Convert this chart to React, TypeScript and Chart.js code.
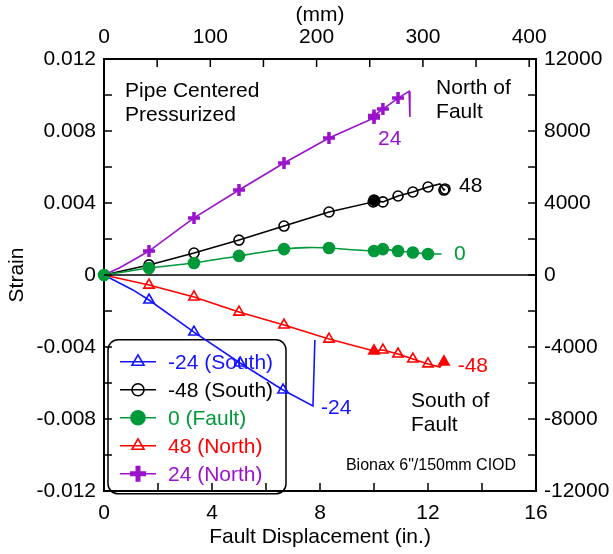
import React, { useEffect, useRef } from 'react';
import { Chart, registerables } from 'chart.js';

Chart.register(...registerables);

const FONT = '"Liberation Sans", Arial, Helvetica, sans-serif';

// ---- Data (fault displacement in inches, strain) ----
const blueX = [0, 1.07, 1.667, 3.333, 5.04, 6.63, 7.74, 7.81];
const blueY = [0, -0.00083, -0.00139, -0.00317, -0.00489, -0.00639, -0.00728, -0.00361];

const blackX = [0, 1.667, 3.333, 5.0, 6.667, 8.333, 9.97, 10.0, 10.03, 10.33, 10.89, 11.44, 12.0, 12.44, 12.59, 12.63];
const blackY = [0, 0.00056, 0.00122, 0.00194, 0.00272, 0.0035, 0.00406, 0.00417, 0.00411, 0.00406, 0.00439, 0.00461, 0.00489, 0.00506, 0.00472, 0.00478];

const greenX = [0, 1.667, 3.333, 5.0, 6.667, 7.5, 8.333, 10.0, 10.33, 10.89, 11.44, 12.0, 12.5];
const greenY = [0, 0.00039, 0.00067, 0.00106, 0.00144, 0.00152, 0.0015, 0.00133, 0.00144, 0.00133, 0.00125, 0.00117, 0.00117];

const redX = [0, 1.667, 3.333, 5.0, 6.667, 8.333, 10.0, 10.33, 10.89, 11.44, 12.0, 12.44, 12.59];
const redY = [0, -0.00056, -0.00122, -0.00206, -0.00278, -0.00356, -0.00422, -0.00417, -0.00439, -0.00467, -0.00494, -0.00511, -0.00483];

const purpleX = [0, 0.6, 1.667, 3.333, 5.0, 6.667, 8.333, 10.0, 10.0, 10.33, 10.89, 11.3, 11.33];
const purpleY = [0, 0.00042, 0.00133, 0.00317, 0.00472, 0.00622, 0.00761, 0.00872, 0.00886, 0.00922, 0.00983, 0.0102, 0.00878];

// indices of line-only points (no marker) and of overlapped (solid-looking) markers
const blueNoMarker = [0, 1, 6, 7];
const blackNoMarker = [0, 13];
const blackSolid = [7];
const greenNoMarker = [5, 12];
const redNoMarker = [0, 11];
const redSolid = [6, 12];
const purpleNoMarker = [0, 1, 11, 12];

const seriesLabels = ['-24 (South)', '-48 (South)', '0 (Fault)', '48 (North)', '24 (North)'];

// axes
const xTicksIn = [0, 4, 8, 12, 16];
const mmTicks = [0, 100, 200, 300, 400];
const strainTicks = [-0.012, -0.008, -0.004, 0, 0.004, 0.008, 0.012];
const microTicks = [-12000, -8000, -4000, 0, 4000, 8000, 12000];

const BLUE = '#1414ff';
const BLACK = '#000000';
const GREEN = '#00993a';
const RED = '#ff0000';
const PURPLE = '#9a12cc';

type Style = 'triangle' | 'circle' | 'cross';

function mk(label: string, xs: number[], ys: number[], color: string, style: Style, noMarker: number[], solid: number[], filledAll: boolean, order: number, tension: number) {
  return {
    label,
    data: xs.map((x, i) => ({ x, y: ys[i] })),
    borderColor: color,
    borderWidth: 1.6,
    tension,
    pointStyle: style,
    pointRadius: (c: any) => (noMarker.includes(c.dataIndex) ? 0 : style === 'circle' ? (filledAll ? 5.5 : 5) : 6),
    pointBorderColor: color,
    pointBorderWidth: style === 'cross' ? 3.5 : 1.6,
    pointBackgroundColor: (c: any) => (filledAll || solid.includes(c.dataIndex) ? color : 'rgba(0,0,0,0)'),
    xAxisID: 'x',
    yAxisID: 'y',
    order,
    clip: false as any,
  };
}

function drawMarker(ctx: CanvasRenderingContext2D, style: Style, x: number, y: number, color: string, filled: boolean) {
  ctx.save();
  ctx.strokeStyle = color;
  ctx.fillStyle = color;
  if (style === 'triangle') {
    const r = 7;
    ctx.lineWidth = 1.6;
    ctx.beginPath();
    ctx.moveTo(x, y - r);
    ctx.lineTo(x + r * Math.cos(Math.PI / 6), y + r * 0.5);
    ctx.lineTo(x - r * Math.cos(Math.PI / 6), y + r * 0.5);
    ctx.closePath();
    if (filled) ctx.fill();
    ctx.stroke();
  } else if (style === 'circle') {
    ctx.lineWidth = 1.6;
    ctx.beginPath();
    ctx.arc(x, y, filled ? 7 : 6, 0, Math.PI * 2);
    if (filled) ctx.fill();
    ctx.stroke();
  } else {
    ctx.lineWidth = 5;
    ctx.beginPath();
    ctx.moveTo(x - 8, y);
    ctx.lineTo(x + 8, y);
    ctx.moveTo(x, y - 8);
    ctx.lineTo(x, y + 8);
    ctx.stroke();
  }
  ctx.restore();
}

const legendItems: { color: string; style: Style; filled: boolean }[] = [
  { color: BLUE, style: 'triangle', filled: false },
  { color: BLACK, style: 'circle', filled: false },
  { color: GREEN, style: 'circle', filled: true },
  { color: RED, style: 'triangle', filled: false },
  { color: PURPLE, style: 'cross', filled: false },
];

const annotations = [
  { text: ['Pipe Centered', 'Pressurized'], x: 0.78, y: 0.01022, color: BLACK, size: 21 },
  { text: ['North of', 'Fault'], x: 12.3, y: 0.01039, color: BLACK, size: 21 },
  { text: ['24'], x: 10.15, y: 0.00756, color: PURPLE, size: 21 },
  { text: ['48'], x: 13.15, y: 0.00494, color: BLACK, size: 21 },
  { text: ['0'], x: 12.96, y: 0.00117, color: GREEN, size: 21 },
  { text: ['-48'], x: 13.1, y: -0.00506, color: RED, size: 21 },
  { text: ['-24'], x: 8.04, y: -0.00739, color: BLUE, size: 21 },
  { text: ['South of', 'Fault'], x: 11.37, y: -0.007, color: BLACK, size: 21 },
  { text: ['Bionax 6"/150mm CIOD'], x: 8.96, y: -0.01061, color: BLACK, size: 16 },
];

const decorPlugin = {
  id: 'decor',
  beforeDatasetsDraw(chart: any) {
    const { ctx, chartArea, scales } = chart;
    ctx.save();
    // zero line
    const y0 = scales.y.getPixelForValue(0);
    ctx.strokeStyle = '#000';
    ctx.lineWidth = 1.5;
    ctx.beginPath();
    ctx.moveTo(chartArea.left, y0);
    ctx.lineTo(chartArea.right, y0);
    ctx.stroke();
    // legend box
    const lx = scales.x.getPixelForValue(0) + 4;
    const top = scales.y.getPixelForValue(-0.0036);
    const w = 178;
    const h = 154;
    const r = 10;
    ctx.lineWidth = 1.5;
    ctx.beginPath();
    ctx.moveTo(lx + r, top);
    ctx.lineTo(lx + w - r, top);
    ctx.arcTo(lx + w, top, lx + w, top + r, r);
    ctx.lineTo(lx + w, top + h - r);
    ctx.arcTo(lx + w, top + h, lx + w - r, top + h, r);
    ctx.lineTo(lx + r, top + h);
    ctx.arcTo(lx, top + h, lx, top + h - r, r);
    ctx.lineTo(lx, top + r);
    ctx.arcTo(lx, top, lx + r, top, r);
    ctx.closePath();
    ctx.stroke();
    legendItems.forEach((it, i) => {
      const ry = top + 22 + i * 28;
      ctx.strokeStyle = it.color;
      ctx.lineWidth = 1.6;
      ctx.beginPath();
      ctx.moveTo(lx + 12, ry);
      ctx.lineTo(lx + 48, ry);
      ctx.stroke();
      drawMarker(ctx, it.style, lx + 30, ry, it.color, it.filled);
      ctx.fillStyle = it.color;
      ctx.font = `21px ${FONT}`;
      ctx.textBaseline = 'middle';
      ctx.textAlign = 'left';
      ctx.fillText(seriesLabels[i], lx + 60, ry + 1);
    });
    ctx.restore();
  },
  afterDraw(chart: any) {
    const { ctx, chartArea, scales } = chart;
    ctx.save();
    ctx.strokeStyle = '#000';
    ctx.lineWidth = 1.5;
    const L = 8;
    ctx.beginPath();
    for (let v = 0; v <= 16; v += 2) {
      const px = scales.x.getPixelForValue(v);
      ctx.moveTo(px, chartArea.bottom);
      ctx.lineTo(px, chartArea.bottom - L);
    }
    for (let v = 0; v <= 400; v += 50) {
      const px = scales.x2.getPixelForValue(v);
      ctx.moveTo(px, chartArea.top);
      ctx.lineTo(px, chartArea.top + L);
    }
    for (let k = -6; k <= 6; k++) {
      const py = scales.y.getPixelForValue(k * 0.002);
      ctx.moveTo(chartArea.left, py);
      ctx.lineTo(chartArea.left + L, py);
      const py2 = scales.y2.getPixelForValue(k * 2000);
      ctx.moveTo(chartArea.right, py2);
      ctx.lineTo(chartArea.right - L, py2);
    }
    ctx.stroke();
    // annotations
    ctx.textAlign = 'left';
    ctx.textBaseline = 'middle';
    annotations.forEach((a) => {
      ctx.fillStyle = a.color;
      ctx.font = `${a.size}px ${FONT}`;
      const px = scales.x.getPixelForValue(a.x);
      const py = scales.y.getPixelForValue(a.y);
      a.text.forEach((t, j) => ctx.fillText(t, px, py + j * 24));
    });
    ctx.restore();
  },
};

const tickFont = { family: FONT, size: 21 };

export default function App() {
  const ref = useRef<HTMLCanvasElement>(null);
  useEffect(() => {
    document.body.style.margin = '0';
    const canvas = ref.current!;
    const chart = new Chart(canvas, {
      type: 'line',
      data: {
        datasets: [
          mk(seriesLabels[0], blueX, blueY, BLUE, 'triangle', blueNoMarker, [], false, 5, 0),
          mk(seriesLabels[1], blackX, blackY, BLACK, 'circle', blackNoMarker, blackSolid, false, 4, 0),
          mk(seriesLabels[3], redX, redY, RED, 'triangle', redNoMarker, redSolid, false, 3, 0),
          mk(seriesLabels[4], purpleX, purpleY, PURPLE, 'cross', purpleNoMarker, [], false, 2, 0),
          mk(seriesLabels[2], greenX, greenY, GREEN, 'circle', greenNoMarker, [], true, 1, 0.15),
        ] as any,
      },
      options: {
        animation: false,
        responsive: false,
        devicePixelRatio: 1,
        events: [],
        layout: { padding: 0 },
        plugins: { legend: { display: false }, tooltip: { enabled: false } },
        scales: {
          x: {
            type: 'linear',
            position: 'bottom',
            min: 0,
            max: 16,
            afterBuildTicks: (s: any) => { s.ticks = xTicksIn.map((v) => ({ value: v })); },
            ticks: { font: tickFont, color: '#000', padding: 10, maxRotation: 0, autoSkip: false },
            grid: { display: false, drawTicks: false },
            border: { display: true, color: '#000', width: 2 },
            title: { display: true, text: 'Fault Displacement (in.)', color: '#000', font: tickFont, padding: { top: 0, bottom: 4 } },
            afterFit: (s: any) => { s.height = 63; },
          },
          x2: {
            type: 'linear',
            position: 'top',
            min: 0,
            max: 406.4,
            afterBuildTicks: (s: any) => { s.ticks = mmTicks.map((v) => ({ value: v })); },
            ticks: { font: tickFont, color: '#000', padding: 9, maxRotation: 0, autoSkip: false },
            grid: { display: false, drawTicks: false },
            border: { display: true, color: '#000', width: 2 },
            title: { display: true, text: '(mm)', color: '#000', font: tickFont, padding: { top: 3, bottom: 0 } },
            afterFit: (s: any) => { s.height = 59; },
          },
          y: {
            type: 'linear',
            position: 'left',
            min: -0.012,
            max: 0.012,
            afterBuildTicks: (s: any) => { s.ticks = strainTicks.map((v) => ({ value: v })); },
            ticks: {
              font: tickFont,
              color: '#000',
              padding: 8,
              autoSkip: false,
              callback: (v: any) => (Math.abs(v) < 1e-9 ? '0' : Number(v).toFixed(3)),
            },
            grid: { display: false, drawTicks: false },
            border: { display: true, color: '#000', width: 2 },
            title: { display: true, text: 'Strain', color: '#000', font: tickFont, padding: { top: 5, bottom: 0 } },
            afterFit: (s: any) => { s.width = 104; },
          },
          y2: {
            type: 'linear',
            position: 'right',
            min: -12000,
            max: 12000,
            afterBuildTicks: (s: any) => { s.ticks = microTicks.map((v) => ({ value: v })); },
            ticks: { font: tickFont, color: '#000', padding: 8, autoSkip: false, callback: (v: any) => String(v) },
            grid: { display: false, drawTicks: false },
            border: { display: true, color: '#000', width: 2 },
            afterFit: (s: any) => { s.width = 77; },
          },
        },
      } as any,
      plugins: [decorPlugin],
    });
    return () => chart.destroy();
  }, []);
  return (
    <div style={{ width: 613, height: 554 }}>
      <canvas ref={ref} width={613} height={554} style={{ display: 'block' }} />
    </div>
  );
}
